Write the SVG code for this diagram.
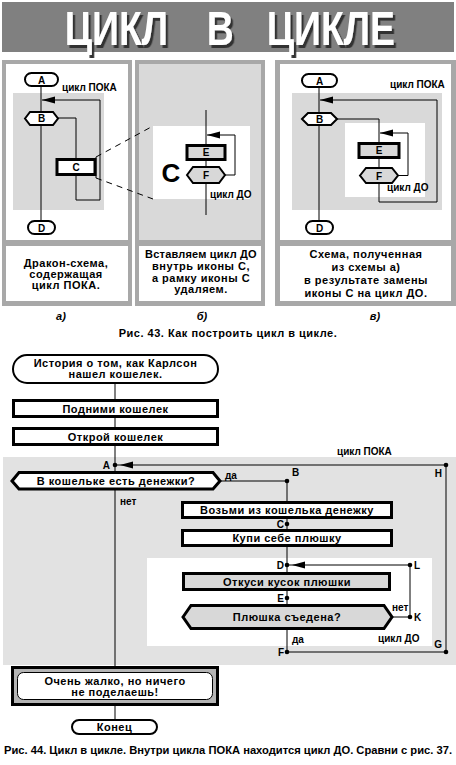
<svg xmlns="http://www.w3.org/2000/svg" width="456" height="765" viewBox="0 0 456 765">
<defs>
<style>
text{font-family:"Liberation Sans",Arial,sans-serif;font-weight:bold;fill:#000}
.t{font-size:11px;text-anchor:middle;letter-spacing:0.5px}
.p{font-size:10px;text-anchor:middle}
.l{font-size:10px}
.le{font-size:10px;text-anchor:end}
.ln{fill:none;stroke:#000;stroke-width:1}
.box{fill:#fff;stroke:#000;stroke-width:3}
.gbox{fill:#d8d8d8;stroke:#000;stroke-width:3}
.term{fill:#fff;stroke:#000;stroke-width:2}
.frame{fill:#a8a8a8}
.lg{fill:#d9d9d9}
.wh{fill:#fff}
.dash{fill:none;stroke:#000;stroke-width:1;stroke-dasharray:6 5}
.cap{font-size:11px;text-anchor:middle;font-style:italic}
</style>
<marker id="arr" markerUnits="userSpaceOnUse" markerWidth="20" markerHeight="10" viewBox="0 0 20 10" refX="17" refY="5" orient="auto">
<path d="M0,1.5 L13,5 L0,8.5 Z" fill="#000"/>
</marker>
<marker id="arr0" markerUnits="userSpaceOnUse" markerWidth="20" markerHeight="10" viewBox="0 0 20 10" refX="13" refY="5" orient="auto">
<path d="M0,1.5 L13,5 L0,8.5 Z" fill="#000"/>
</marker>
<filter id="sh" x="-5%" y="-10%" width="115%" height="130%">
<feDropShadow dx="3" dy="3" stdDeviation="0" flood-color="#333" flood-opacity="1"/>
</filter>
</defs>

<g id="title">
<rect x="2" y="2" width="452" height="50" fill="#808080"/>
<text transform="scale(0.78,1)" y="45" style="font-size:48px;font-weight:bold;fill:#fff" filter="url(#sh)"><tspan x="83">ЦИКЛ</tspan><tspan x="265">В</tspan><tspan x="342">ЦИКЛЕ</tspan></text>
</g>

<!-- Panel backgrounds -->
<g id="panel-a-bg">
<rect class="frame" x="2" y="60" width="130" height="246"/>
<rect class="wh" x="6" y="64" width="122" height="176"/>
<rect class="wh" x="6" y="246" width="122" height="55"/>
<rect class="lg" x="13" y="93" width="91" height="117"/>
</g>
<g id="panel-b-bg">
<rect class="frame" x="135" y="60" width="130" height="246"/>
<rect class="lg" x="139" y="64" width="122" height="176"/>
<rect class="wh" x="139" y="246" width="122" height="55"/>
<rect class="wh" x="153" y="126" width="97" height="73"/>
</g>
<g id="panel-c-bg">
<rect class="frame" x="275" y="60" width="181" height="246"/>
<rect class="wh" x="280" y="64" width="171" height="176"/>
<rect class="wh" x="280" y="246" width="171" height="55"/>
<rect class="lg" x="292" y="93" width="150" height="117"/>
<rect class="wh" x="345" y="123" width="80" height="74"/>
</g>

<g id="connectors-panels">
<!-- panel a -->
<path class="ln" d="M41,86 V221"/>
<path class="ln" d="M58,118 H76 V159"/>
<path class="ln" d="M76,175 V200 H100 V100 H42" marker-end="url(#arr0)"/>
<path class="ln" d="M96,157 V178"/>
<path class="dash" d="M96,157 L153,126"/>
<path class="dash" d="M96,178 L153,199"/>
<!-- panel b -->
<path class="ln" d="M206,110 V145"/>
<path class="ln" d="M206,160 V167"/>
<path class="ln" d="M206,183 V215"/>
<path class="ln" d="M225,175 H235 V135 H207" marker-end="url(#arr0)"/>
<!-- panel c -->
<path class="ln" d="M319,87 V221"/>
<path class="ln" d="M337,119 H379 V143"/>
<path class="ln" d="M379,157 V168"/>
<path class="ln" d="M398,175.5 H408 V133 H380" marker-end="url(#arr0)"/>
<path class="ln" d="M379,183 V202 H437 V100 H320" marker-end="url(#arr0)"/>
</g>

<g id="panel-a">
<g id="a-A"><rect class="term" x="25" y="73" width="33" height="13" rx="6.5"/><text class="p" x="41.5" y="83.5">A</text></g>
<g id="a-B"><polygon class="term" points="25,118.5 30,112 53,112 58,118.5 53,125 30,125"/><text class="p" x="41.5" y="122">B</text></g>
<g id="a-C"><rect class="box" x="57" y="159.5" width="38" height="15"/><text class="p" x="76" y="171">C</text></g>
<g id="a-D"><rect class="term" x="28" y="221" width="27" height="13" rx="6.5"/><text class="p" x="41.5" y="231.5">D</text></g>
<text class="l" x="62" y="91">цикл ПОКА</text>
<text class="t" x="66" y="267">Дракон-схема,</text>
<text class="t" x="66" y="278">содержащая</text>
<text class="t" x="66" y="289">цикл ПОКА.</text>
</g>

<g id="panel-b">
<text x="171" y="182" style="font-size:26px;text-anchor:middle">C</text>
<g id="b-E"><rect class="gbox" x="187" y="145.5" width="38" height="14"/><text class="p" x="206" y="156">E</text></g>
<g id="b-F"><polygon class="term" style="fill:#d8d8d8" points="187,175 193,167 219,167 225,175 219,183 193,183"/><text class="p" x="206" y="179">F</text></g>
<text class="l" x="210" y="198">цикл ДО</text>
<text class="t" x="201" y="258" style="letter-spacing:0.2px">Вставляем цикл ДО</text>
<text class="t" x="201" y="270">внутрь иконы С,</text>
<text class="t" x="201" y="282">а рамку иконы С</text>
<text class="t" x="201" y="293">удаляем.</text>
</g>

<g id="panel-c">
<g id="c-A"><rect class="term" x="302" y="74" width="35" height="13" rx="6.5"/><text class="p" x="319.5" y="84.5">A</text></g>
<g id="c-B"><polygon class="term" points="302,119 308,113 331,113 337,119 331,125 308,125"/><text class="p" x="319.5" y="123">B</text></g>
<g id="c-E"><rect class="gbox" x="359" y="143.5" width="40" height="14"/><text class="p" x="379" y="154">E</text></g>
<g id="c-F"><polygon class="term" style="fill:#d8d8d8" points="360,175.5 366,168 392,168 398,175.5 392,183 366,183"/><text class="p" x="379" y="179.5">F</text></g>
<g id="c-D"><rect class="term" x="306" y="221" width="27" height="13" rx="6.5"/><text class="p" x="319.5" y="231.5">D</text></g>
<text class="l" x="390" y="88">цикл ПОКА</text>
<text class="l" x="387" y="191">цикл ДО</text>
<text class="t" x="366" y="258">Схема, полученная</text>
<text class="t" x="366" y="271">из схемы а)</text>
<text class="t" x="366" y="284">в результате замены</text>
<text class="t" x="366" y="297">иконы С на цикл ДО.</text>
</g>

<text class="cap" x="61" y="320">а)</text>
<text class="cap" x="202" y="320">б)</text>
<text class="cap" x="375" y="320">в)</text>
<text class="t" x="228" y="337">Рис. 43. Как построить цикл в цикле.</text>

<!-- Lower diagram -->
<rect id="poka-area" x="3" y="457" width="453" height="208" fill="#e2e2e2"/>
<rect id="do-area" x="147" y="558" width="285" height="88" fill="#fff"/>

<g id="connectors">
<path class="ln" d="M115,383 V400 M115,417 V428 M115,445 V472 M115,489 V667 M115,705 V720"/>
<path class="ln" d="M220,481 H287 V502 M287,518 V530 M287,546 V573 M287,590 V605 M287,629 V652"/>
<path class="ln" d="M287,652 H446 V465 H116" marker-end="url(#arr)"/>
<path class="ln" d="M392,617 H410 V565 H288" marker-end="url(#arr)"/>
</g>

<g id="start"><rect class="term" x="13" y="355" width="205" height="28" rx="14"/><text class="t" x="115.5" y="367">История о том, как Карлсон</text><text class="t" x="115.5" y="378">нашел кошелек.</text></g>
<g id="pick"><rect class="box" x="13.5" y="400.5" width="204" height="16"/><text class="t" x="115.5" y="412.5">Подними кошелек</text></g>
<g id="open"><rect class="box" x="13.5" y="428.5" width="204" height="16"/><text class="t" x="115.5" y="440.5">Открой кошелек</text></g>
<g id="cond1"><polygon class="box" points="12,481 19,472.5 213,472.5 220,481 213,489 19,489"/><text class="t" x="116" y="485">В кошельке есть денежки?</text></g>
<g id="take"><rect class="box" x="182.5" y="502.5" width="209" height="15"/><text class="t" x="287" y="514">Возьми из кошелька денежку</text></g>
<g id="buy"><rect class="box" x="182.5" y="530.5" width="209" height="15"/><text class="t" x="287" y="542">Купи себе плюшку</text></g>
<g id="bite"><rect class="gbox" x="183.5" y="573.5" width="206" height="16"/><text class="t" x="287" y="585.5">Откуси кусок плюшки</text></g>
<g id="cond2"><polygon class="gbox" points="183,617 191,605.5 384,605.5 392,617 384,628.5 191,628.5"/><text class="t" x="287" y="621">Плюшка съедена?</text></g>
<g id="sorry"><rect x="12.5" y="667.5" width="205" height="37" fill="#b4b4b4" stroke="#000" stroke-width="3"/><rect x="17.5" y="672.5" width="195" height="27" rx="6" fill="#fff" stroke="#000" stroke-width="1"/><text class="t" x="115" y="685">Очень жалко, но ничего</text><text class="t" x="115" y="696">не поделаешь!</text></g>
<g id="end"><rect class="term" x="72" y="720" width="85" height="14" rx="7"/><text class="t" x="114.5" y="731">Конец</text></g>

<g id="points">
<g id="pA"><circle cx="115" cy="465" r="2.3"/><text class="le" x="110" y="469">A</text></g>
<g id="pB"><circle cx="287" cy="481" r="2.3"/><text class="l" x="292" y="476">B</text></g>
<g id="pC"><circle cx="287" cy="524" r="2.3"/><text class="le" x="284" y="528">C</text></g>
<g id="pD"><circle cx="287" cy="565" r="2.3"/><text class="le" x="284" y="569">D</text></g>
<g id="pE"><circle cx="287" cy="598" r="2.3"/><text class="le" x="284" y="602">E</text></g>
<g id="pF"><circle cx="287" cy="652" r="2.3"/><text class="le" x="284" y="656">F</text></g>
<g id="pG"><circle cx="446" cy="652" r="2.3"/><text class="le" x="442" y="648">G</text></g>
<g id="pH"><circle cx="446" cy="465" r="2.3"/><text class="le" x="442" y="477">H</text></g>
<g id="pK"><circle cx="410" cy="617" r="2.3"/><text class="l" x="414" y="621">K</text></g>
<g id="pL"><circle cx="410" cy="565" r="2.3"/><text class="l" x="414" y="569">L</text></g>
</g>

<g id="labels">
<text class="l" x="337" y="455">цикл ПОКА</text>
<text class="l" x="225" y="479">да</text>
<text class="l" x="120" y="505">нет</text>
<text class="l" x="392" y="611">нет</text>
<text class="l" x="292" y="643">да</text>
<text class="l" x="378" y="642">цикл ДО</text>
</g>

<text class="t" x="228" y="754" textLength="448" lengthAdjust="spacingAndGlyphs" style="letter-spacing:0">Рис. 44. Цикл в цикле. Внутри цикла ПОКА находится цикл ДО. Сравни с рис. 37.</text>
</svg>
